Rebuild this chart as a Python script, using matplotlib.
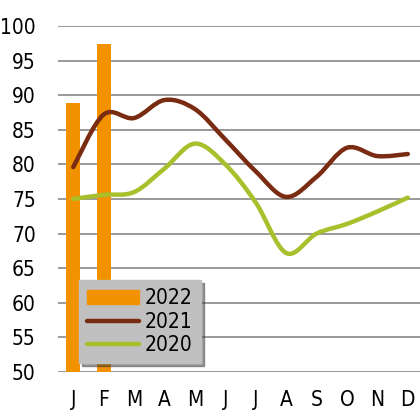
import matplotlib
matplotlib.use("Agg")
import matplotlib.pyplot as plt
from matplotlib.path import Path
from matplotlib.patches import PathPatch, Patch
from matplotlib.lines import Line2D
import numpy as np

plt.rcParams['font.family'] = ['DejaVu Sans']
plt.rcParams['font.stretch'] = 'condensed'

months = ["J", "F", "M", "A", "M", "J", "J", "A", "S", "O", "N", "D"]
bars_2022 = [88.9, 97.4]
line_2021 = [79.6, 87.2, 86.7, 89.3, 88.0, 83.6, 79.0, 75.3, 78.2, 82.4, 81.2, 81.5]
line_2020 = [75.0, 75.6, 76.0, 79.4, 83.0, 80.0, 74.5, 67.2, 70.0, 71.4, 73.2, 75.2]

c_2022 = "#f39200"
c_2021 = "#7a2c12"
c_2020 = "#a9bf2c"


def smooth_path(ys):
    # smoothed line like Excel: bezier segments through each point
    xs = np.arange(len(ys), dtype=float)
    ys = np.asarray(ys, dtype=float)
    verts = [(xs[0], ys[0])]
    codes = [Path.MOVETO]
    n = len(ys)
    for i in range(n - 1):
        p0 = (xs[max(i - 1, 0)], ys[max(i - 1, 0)])
        p1 = (xs[i], ys[i])
        p2 = (xs[i + 1], ys[i + 1])
        p3 = (xs[min(i + 2, n - 1)], ys[min(i + 2, n - 1)])
        t = 1 / 6
        c1 = (p1[0] + (p2[0] - p0[0]) * t, p1[1] + (p2[1] - p0[1]) * t)
        c2 = (p2[0] - (p3[0] - p1[0]) * t, p2[1] - (p3[1] - p1[1]) * t)
        verts += [c1, c2, p2]
        codes += [Path.CURVE4] * 3
    return Path(verts, codes)


fig = plt.figure(figsize=(4.2, 4.12), dpi=100)
ax = fig.add_axes([58 / 420, 40 / 412, 365 / 420, 346 / 412])

ax.bar(range(len(bars_2022)), bars_2022, width=0.46, bottom=0, color=c_2022, zorder=2)
ax.add_patch(PathPatch(smooth_path(line_2021), fill=False, edgecolor=c_2021,
                       lw=3.2, capstyle="round", zorder=3))
ax.add_patch(PathPatch(smooth_path(line_2020), fill=False, edgecolor=c_2020,
                       lw=3.2, capstyle="round", zorder=3))

ax.set_ylim(50, 100)
ax.set_xlim(-0.5, 11.5)
ax.set_yticks(range(50, 101, 5))
ax.set_xticks(range(12))
ax.set_xticklabels(months)
ax.tick_params(length=0, labelsize=15)
ax.tick_params(axis="x", pad=13)
ax.tick_params(axis="y", pad=16)
ax.yaxis.grid(True, color="#999999", lw=1.4)
ax.set_axisbelow(True)
for s in ax.spines.values():
    s.set_visible(False)

handles = [Patch(color=c_2022),
           Line2D([], [], color=c_2021, lw=3.2, solid_capstyle="round"),
           Line2D([], [], color=c_2020, lw=3.2, solid_capstyle="round")]
leg = ax.legend(handles, ["2022", "2021", "2020"], loc="lower left",
                bbox_to_anchor=(21 / 365, 9 / 346), borderaxespad=0, fontsize=15,
                frameon=True, fancybox=False, shadow=True, facecolor="#c0c0c0",
                edgecolor="#c0c0c0", framealpha=1, handlelength=2.5, handleheight=0.6,
                handletextpad=0.25, labelspacing=0.15, borderpad=0.4)
leg.set_zorder(5)

fig.savefig("out.png", dpi=100)
